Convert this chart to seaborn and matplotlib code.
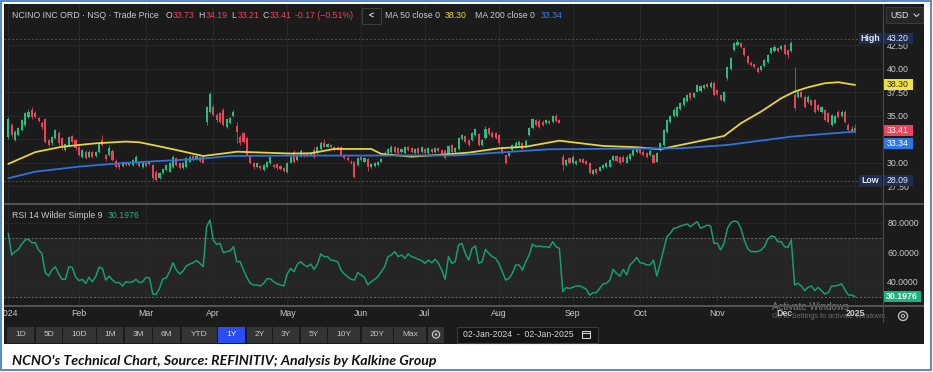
import numpy as np
import pandas as pd
import matplotlib
matplotlib.use("Agg")
import matplotlib.pyplot as plt
from matplotlib.patches import Rectangle, Circle
import seaborn as sns

# trading calendar shown on the chart (02-Jan-2024 .. 02-Jan-2025)
holidays = ["2024-01-15", "2024-02-19", "2024-03-29", "2024-05-27", "2024-06-19",
            "2024-07-04", "2024-09-02", "2024-11-28", "2024-12-25", "2025-01-01"]
dates = pd.bdate_range("2024-01-02", "2025-01-02", freq="C", holidays=holidays)

# daily candles
opens = [
    32.73, 34.04, 32.45, 32.98, 33.51, 34.04, 34.93, 35.64, 35.35, 34.75,
    34.29, 34.64, 32.45, 32.09, 32.62, 33.23, 32.62, 31.38, 31.91, 32.87,
    32.45, 31.74, 30.67, 31.21, 30.67, 31.21, 30.74, 31.21, 32.45, 30.85,
    30.85, 31.31, 30.25, 29.96, 29.68, 30.14, 29.79, 29.79, 29.96, 30.04,
    29.61, 30.04, 29.89, 29.79, 29.08, 28.37, 28.90, 29.26, 29.08, 29.61,
    30.50, 30.04, 29.43, 29.61, 30.14, 30.74, 30.39, 30.60, 30.67, 34.40,
    35.46, 35.99, 35.11, 35.28, 35.64, 33.87, 34.22, 35.00, 33.90, 32.80,
    33.16, 32.62, 30.85, 29.96, 29.61, 29.68, 29.26, 29.61, 29.96, 29.79,
    29.89, 29.68, 29.43, 29.08, 30.04, 31.21, 30.32, 30.74, 31.10, 31.03,
    30.85, 31.38, 31.10, 31.45, 32.09, 31.74, 31.91, 31.74, 31.67, 31.67,
    30.85, 30.57, 30.14, 30.14, 29.79, 30.60, 30.14, 30.39, 29.54, 29.68,
    29.79, 30.14, 30.85, 31.10, 31.21, 31.67, 31.56, 31.21, 31.03, 31.67,
    31.56, 31.10, 31.56, 31.21, 31.45, 31.10, 31.45, 31.21, 31.56, 31.38,
    31.31, 30.96, 31.91, 31.21, 31.45, 32.52, 32.87, 32.45, 32.45, 32.98,
    33.09, 31.91, 32.62, 33.69, 33.23, 33.16, 32.98, 31.74, 30.85, 30.74,
    31.38, 31.67, 31.91, 32.09, 31.67, 32.98, 33.69, 34.57, 34.50, 34.40,
    34.22, 34.50, 34.40, 35.00, 34.57, 30.67, 29.79, 30.50, 29.96, 29.89,
    30.39, 30.39, 30.25, 30.04, 28.83, 29.33, 29.18, 29.43, 29.54, 29.61,
    30.32, 30.74, 30.60, 30.67, 30.04, 30.39, 30.85, 31.21, 31.67, 31.21,
    31.03, 30.85, 30.85, 30.14, 31.38, 31.91, 33.33, 34.40, 35.00, 35.00,
    35.71, 36.17, 36.63, 37.48, 37.06, 37.59, 37.70, 37.94, 38.40, 38.05,
    38.55, 37.77, 37.23, 36.63, 39.01, 39.96, 42.02, 42.55, 42.73, 42.20,
    41.38, 40.67, 40.53, 40.07, 39.89, 40.32, 40.78, 41.74, 41.95, 42.20,
    42.09, 42.55, 42.02, 41.95, 37.23, 37.06, 37.59, 37.06, 36.52, 36.70,
    36.70, 36.17, 35.46, 35.64, 35.28, 34.04, 34.29, 35.46, 35.00, 35.46,
    34.04, 33.45, 33.73,
]
closes = [
    34.64, 32.98, 33.33, 33.69, 34.57, 35.28, 35.46, 34.86, 34.93, 34.50,
    33.79, 32.27, 31.91, 32.73, 33.51, 32.09, 31.56, 32.02, 32.73, 32.27,
    31.56, 30.85, 31.38, 30.50, 31.21, 30.67, 31.21, 32.09, 31.91, 30.39,
    31.56, 30.32, 29.61, 29.54, 30.14, 29.79, 30.04, 30.32, 30.67, 29.68,
    30.04, 29.68, 30.14, 28.37, 28.19, 28.90, 29.33, 29.79, 29.96, 30.67,
    29.79, 29.43, 29.96, 30.50, 30.67, 30.32, 30.74, 30.25, 30.04, 35.92,
    37.34, 35.11, 34.57, 34.40, 34.04, 34.64, 34.75, 35.46, 33.33, 32.09,
    32.27, 30.85, 29.96, 29.54, 29.96, 29.43, 29.79, 30.14, 30.60, 29.54,
    29.43, 29.33, 29.18, 29.96, 30.67, 30.14, 30.85, 31.31, 30.74, 30.74,
    31.10, 30.60, 31.67, 32.16, 31.74, 32.02, 31.67, 31.38, 31.45, 30.85,
    30.50, 30.32, 29.96, 28.48, 30.50, 30.32, 30.50, 29.54, 29.89, 29.96,
    30.14, 30.39, 31.10, 31.45, 31.74, 31.21, 31.10, 31.45, 31.74, 31.38,
    31.21, 31.45, 31.03, 31.67, 31.10, 31.56, 31.21, 31.56, 31.31, 30.96,
    30.50, 31.81, 31.21, 31.56, 32.62, 32.98, 32.27, 31.91, 33.16, 33.58,
    31.91, 32.45, 33.58, 33.09, 32.80, 32.62, 32.09, 31.03, 29.96, 31.10,
    31.91, 32.16, 32.27, 31.45, 32.38, 33.69, 34.65, 34.04, 33.87, 34.04,
    34.57, 34.22, 35.00, 34.50, 34.29, 29.79, 30.32, 29.96, 30.67, 30.25,
    30.14, 30.04, 29.89, 28.97, 29.26, 28.90, 29.61, 29.79, 29.96, 30.32,
    30.74, 30.25, 29.96, 30.14, 30.67, 30.96, 31.38, 31.74, 31.03, 30.85,
    30.67, 31.31, 30.04, 31.03, 32.09, 33.51, 34.57, 35.00, 35.64, 35.99,
    36.35, 36.88, 37.23, 36.88, 37.48, 38.30, 38.19, 38.30, 38.05, 38.55,
    37.23, 37.34, 36.70, 37.59, 40.18, 41.13, 42.73, 42.91, 42.30, 41.49,
    40.60, 40.43, 40.18, 39.72, 40.32, 40.96, 41.49, 42.20, 42.38, 41.95,
    42.45, 41.60, 41.49, 42.73, 35.82, 37.59, 37.06, 35.92, 37.06, 36.17,
    35.46, 35.64, 35.92, 34.57, 34.40, 35.11, 35.00, 34.93, 35.46, 34.40,
    33.51, 33.58, 33.41,
]
highs = [
    34.90, 34.30, 33.50, 33.85, 34.70, 35.40, 35.70, 35.90, 35.50, 34.90,
    34.45, 34.80, 32.60, 32.90, 33.65, 33.40, 32.80, 32.15, 32.90, 33.00,
    32.60, 31.90, 31.50, 31.35, 31.35, 31.30, 31.30, 32.20, 32.98, 31.00,
    31.91, 31.45, 30.40, 30.10, 30.25, 30.25, 30.15, 30.45, 30.80, 30.15,
    30.15, 30.15, 30.25, 29.90, 29.20, 29.00, 29.45, 29.90, 30.10, 30.80,
    30.60, 30.15, 30.05, 30.60, 30.80, 30.90, 30.85, 30.75, 30.80, 36.10,
    37.60, 36.20, 35.30, 35.45, 35.80, 34.80, 34.90, 35.65, 34.40, 32.95,
    33.30, 32.75, 31.00, 30.10, 30.10, 29.80, 29.90, 30.25, 30.75, 29.90,
    30.00, 29.80, 29.55, 30.05, 30.80, 31.35, 31.00, 31.45, 31.20, 31.15,
    31.20, 31.70, 31.80, 32.30, 32.50, 32.15, 32.05, 31.85, 31.80, 31.80,
    31.00, 30.70, 30.30, 30.25, 30.65, 30.75, 30.65, 30.50, 30.00, 30.10,
    30.25, 30.50, 31.25, 31.55, 31.90, 31.80, 31.70, 31.55, 31.85, 31.80,
    31.70, 31.55, 31.70, 31.80, 31.60, 31.65, 31.55, 31.65, 31.65, 31.50,
    31.45, 31.95, 32.05, 31.70, 32.75, 33.10, 33.00, 32.60, 33.30, 33.75,
    33.20, 32.60, 33.90, 33.85, 33.40, 33.30, 33.10, 31.85, 31.00, 31.20,
    32.05, 32.30, 32.40, 32.20, 32.50, 33.85, 34.80, 34.70, 34.65, 34.55,
    34.70, 34.60, 35.15, 35.20, 34.70, 31.00, 30.45, 30.65, 30.80, 30.35,
    30.50, 30.50, 30.35, 30.15, 29.35, 29.45, 29.70, 29.90, 30.05, 30.45,
    30.85, 30.85, 30.70, 30.80, 30.80, 31.10, 31.50, 31.85, 31.80, 31.35,
    31.15, 31.45, 30.95, 31.15, 32.20, 33.65, 34.70, 35.15, 35.80, 36.10,
    36.50, 37.00, 37.35, 37.60, 37.60, 38.45, 38.30, 38.45, 38.55, 38.70,
    38.70, 37.90, 37.35, 37.70, 40.35, 41.30, 42.90, 43.20, 42.85, 42.35,
    41.50, 40.80, 40.65, 40.20, 40.45, 41.10, 41.60, 42.35, 42.50, 42.30,
    42.55, 42.70, 42.15, 43.00, 40.25, 37.75, 37.70, 37.20, 37.20, 36.85,
    36.85, 36.30, 36.05, 35.75, 35.40, 35.25, 35.15, 35.60, 35.60, 35.60,
    34.20, 33.95, 34.19,
]
lows = [
    32.50, 32.80, 32.30, 32.85, 33.40, 33.90, 34.80, 34.70, 34.80, 34.35,
    33.60, 32.10, 31.70, 31.95, 32.50, 31.95, 31.40, 31.25, 31.80, 32.10,
    31.40, 30.70, 30.55, 30.40, 30.55, 30.55, 30.60, 31.10, 31.80, 30.25,
    30.75, 30.20, 29.50, 29.40, 29.55, 29.70, 29.70, 29.70, 29.85, 29.60,
    29.50, 29.55, 29.80, 28.20, 28.09, 28.25, 28.80, 29.15, 29.00, 29.50,
    29.70, 29.35, 29.35, 29.50, 30.05, 30.20, 30.30, 30.15, 29.95, 34.00,
    35.30, 34.95, 34.40, 34.25, 33.90, 33.70, 34.10, 34.90, 32.10, 31.95,
    32.10, 30.70, 29.85, 29.40, 29.50, 29.30, 29.15, 29.50, 29.85, 29.45,
    29.30, 29.20, 29.05, 28.95, 29.95, 30.00, 30.20, 30.65, 30.65, 30.65,
    30.75, 30.50, 31.00, 31.35, 31.65, 31.65, 31.55, 31.30, 31.35, 30.75,
    30.40, 30.20, 29.85, 28.40, 29.70, 30.20, 30.05, 29.10, 29.45, 29.60,
    29.70, 30.05, 30.75, 31.00, 31.10, 31.10, 31.00, 31.10, 30.95, 31.30,
    31.10, 31.00, 30.95, 31.10, 31.00, 31.00, 31.10, 31.10, 31.20, 30.85,
    30.40, 30.85, 31.10, 31.10, 31.35, 32.40, 32.15, 31.80, 32.35, 32.90,
    31.80, 31.80, 32.50, 32.95, 32.70, 32.50, 31.95, 30.90, 29.85, 30.60,
    31.25, 31.55, 31.80, 31.35, 31.55, 32.85, 33.60, 33.95, 33.75, 33.95,
    34.10, 34.10, 34.30, 34.40, 34.20, 29.26, 29.70, 29.85, 29.85, 29.80,
    30.05, 29.95, 29.80, 28.85, 28.75, 28.80, 29.10, 29.35, 29.45, 29.55,
    30.25, 30.15, 29.85, 30.05, 29.95, 30.30, 30.75, 31.10, 30.95, 30.75,
    30.55, 30.75, 29.95, 30.05, 31.30, 31.80, 33.20, 34.30, 34.90, 34.90,
    35.60, 36.05, 36.50, 36.75, 36.95, 37.50, 37.60, 37.85, 37.95, 37.95,
    37.10, 37.25, 36.60, 36.50, 38.83, 39.85, 41.90, 42.45, 42.20, 41.40,
    40.50, 40.30, 40.05, 39.60, 39.80, 40.20, 40.65, 41.60, 41.85, 41.85,
    42.00, 41.50, 41.13, 41.85, 35.64, 36.95, 36.95, 35.80, 36.40, 36.05,
    35.35, 35.50, 35.35, 34.45, 34.30, 33.90, 34.20, 34.80, 34.90, 34.30,
    33.40, 33.35, 33.21,
]

# RSI 14 (Wilder)
rsi_values = [
    72.8, 58.2, 60.5, 62.0, 65.6, 68.3, 68.8, 66.5, 66.5, 61.6,
    59.3, 46.3, 44.0, 48.1, 50.3, 45.4, 41.8, 41.8, 50.3, 49.9,
    43.6, 40.9, 41.8, 39.1, 43.1, 40.2, 43.6, 49.9, 49.2, 41.3,
    44.0, 41.3, 39.6, 39.6, 37.3, 40.2, 39.6, 40.2, 41.8, 39.6,
    40.2, 43.1, 42.9, 31.9, 31.7, 35.7, 42.2, 42.7, 47.0, 53.0,
    48.1, 45.4, 47.4, 50.8, 52.1, 53.0, 54.4, 52.6, 50.3, 77.0,
    81.8, 68.3, 65.4, 66.1, 59.8, 60.5, 61.1, 63.8, 53.7, 53.7,
    48.1, 43.1, 39.1, 38.0, 38.0, 37.3, 39.1, 42.2, 42.2, 40.2,
    38.7, 38.0, 37.3, 45.4, 49.2, 47.0, 51.9, 53.7, 51.5, 50.3,
    52.1, 48.5, 52.1, 58.9, 57.1, 57.1, 54.8, 54.4, 53.7, 48.1,
    45.4, 43.6, 41.8, 41.3, 46.3, 44.7, 43.1, 38.0, 40.2, 41.8,
    43.6, 47.0, 50.3, 57.1, 58.2, 60.5, 57.1, 58.2, 56.0, 58.9,
    57.1, 56.4, 55.3, 54.4, 52.6, 54.8, 53.0, 55.3, 52.6, 48.1,
    41.8, 57.1, 52.6, 53.7, 65.0, 66.1, 59.3, 54.8, 62.7, 64.3,
    52.6, 53.7, 62.0, 59.3, 57.1, 56.0, 52.6, 47.0, 41.3, 42.5,
    45.8, 51.5, 51.5, 48.1, 53.7, 58.2, 65.6, 63.8, 64.3, 63.8,
    63.8, 63.2, 67.2, 63.8, 62.7, 33.5, 36.2, 35.7, 36.4, 37.3,
    37.3, 36.4, 35.1, 31.2, 32.8, 32.8, 35.7, 38.7, 39.1, 41.3,
    48.5, 45.8, 44.0, 48.5, 44.7, 51.5, 53.7, 56.6, 53.0, 52.6,
    51.5, 51.5, 54.8, 44.0, 52.6, 61.6, 70.6, 72.8, 76.2, 76.6,
    77.8, 78.4, 79.1, 77.3, 79.1, 80.7, 76.2, 77.3, 78.4, 77.8,
    66.1, 66.1, 61.6, 66.1, 76.2, 80.0, 81.1, 80.7, 76.2, 68.3,
    62.7, 60.5, 60.5, 60.5, 61.6, 63.8, 68.8, 71.0, 70.6, 67.2,
    67.2, 63.8, 63.4, 68.3, 38.0, 39.1, 37.3, 34.2, 36.4, 37.3,
    34.2, 36.4, 34.2, 31.9, 32.8, 37.3, 37.3, 37.8, 38.7, 34.6,
    31.2, 31.2, 30.1976,
]

# moving averages, sampled where the drawn line bends
ma50_dates = ["2024-01-02", "2024-01-12", "2024-01-25", "2024-02-08", "2024-02-22",
              "2024-02-28", "2024-03-05", "2024-03-13", "2024-03-26", "2024-04-08",
              "2024-04-10", "2024-05-02", "2024-05-10", "2024-05-21", "2024-06-06",
              "2024-06-11", "2024-06-25", "2024-07-08", "2024-07-19", "2024-08-01",
              "2024-08-13", "2024-08-27", "2024-09-16", "2024-09-30", "2024-10-09",
              "2024-11-05", "2024-11-12", "2024-11-20", "2024-11-29", "2024-12-05",
              "2024-12-11", "2024-12-18", "2024-12-24", "2025-01-02"]
ma50_values = [29.90, 31.15, 31.73, 32.09, 32.27, 32.20, 31.91, 31.46, 30.74, 31.10,
               31.20, 31.00, 31.03, 31.49, 31.49, 30.96, 30.67, 30.85, 31.10, 31.56,
               31.73, 32.37, 31.81, 31.67, 31.46, 32.87, 34.22, 35.46, 36.88, 37.59,
               38.05, 38.48, 38.59, 38.30]
ma200_dates = ["2024-01-02", "2024-01-12", "2024-02-01", "2024-02-20", "2024-03-07",
               "2024-03-25", "2024-04-08", "2024-05-02", "2024-07-15", "2024-08-22",
               "2024-10-17", "2024-11-06", "2024-12-04", "2025-01-02"]
ma200_values = [28.37, 29.07, 29.61, 29.96, 30.21, 30.43, 30.74, 30.78, 30.80, 31.46,
                31.56, 31.91, 32.80, 33.34]

# 32.50 sits under the last-price tags in the source, so only its gridline shows
price_ticks = [27.5, 30.0, 32.5, 35.0, 37.5, 40.0, 42.5]
price_labels = ["27.50", "30.00", "", "35.00", "37.50", "40.00", "42.50"]
rsi_ticks = [40, 60, 80]
buttons = ["1D", "5D", "10D", "1M", "3M", "6M", "YTD", "1Y", "2Y", "3Y", "5Y", "10Y", "20Y", "Max"]
caption = "NCNO's Technical Chart, Source: REFINITIV; Analysis by Kalkine Group"

# colours
BG = "#1b1b1b"
GRID = "#2a2a2a"
TXT = "#c9c9c9"
GREEN = "#24c07f"
RED = "#e8445a"
YELLOW = "#e6d43a"
BLUE = "#2f72dc"
RSI_C = "#189c74"
NAVY = "#1c2e55"

sns.set_theme(style="dark", rc={"axes.facecolor": BG, "figure.facecolor": "white"})
plt.rcParams["font.family"] = ["Liberation Sans", "DejaVu Sans"]

W, H = 933, 372
fig = plt.figure(figsize=(W / 100, H / 100), dpi=100)


def rect(x0, y0, x1, y1):
    return [x0 / W, 1 - y1 / H, (x1 - x0) / W, (y1 - y0) / H]


# background layer (dark terminal panel + outer frame)
bg = fig.add_axes(rect(0, 0, W, H), zorder=0)
bg.set_xlim(0, W)
bg.set_ylim(H, 0)
bg.axis("off")
bg.add_patch(Rectangle((4, 4), 920, 340, fc=BG, ec="none"))
bg.add_patch(Rectangle((1, 1), 930, 369, fc="none", ec="#4a7fc6", lw=1.3))

n = len(dates)
idx = np.arange(n)
xlim = (-1.28, 260.3)
month_pos = pd.Series(idx, index=dates).groupby([dates.year, dates.month]).first()
month_lbl = [("%d" % y) if m == 1 else pd.Timestamp(year=y, month=m, day=1).strftime("%b")
             for y, m in month_pos.index]

# ---- price pane ----
ax = fig.add_axes(rect(4, 4, 883, 203), zorder=1)
ax.set_facecolor(BG)
ax.set_xlim(*xlim)
ax.set_ylim(25.74, 46.91)
ax.set_xticks(month_pos.values)
ax.set_yticks(price_ticks)
ax.set_yticklabels(price_labels)
ax.yaxis.tick_right()
ax.tick_params(axis="y", length=0, pad=3, labelsize=6.3, labelcolor=TXT)
ax.tick_params(axis="x", length=0, labelbottom=False)
ax.grid(True, color=GRID, lw=0.6)
for s in ax.spines.values():
    s.set_visible(False)

o = np.array(opens)
c = np.array(closes)
hi = np.array(highs)
lo = np.array(lows)
cols = np.where(c >= o, GREEN, RED)
ax.vlines(idx, lo, hi, colors=cols, linewidth=0.55, zorder=3)
ax.bar(idx, np.maximum(np.abs(c - o), 0.07), bottom=np.minimum(o, c), width=0.62,
       color=cols, linewidth=0, zorder=3)

ma50_pos = dates.get_indexer(pd.to_datetime(ma50_dates))
ma200_pos = dates.get_indexer(pd.to_datetime(ma200_dates))
sns.lineplot(x=ma50_pos, y=ma50_values, ax=ax, color=YELLOW, linewidth=1.3,
             estimator=None, sort=False, legend=False, zorder=4)
sns.lineplot(x=ma200_pos, y=ma200_values, ax=ax, color=BLUE, linewidth=1.3,
             estimator=None, sort=False, legend=False, zorder=4)
ax.axhline(max(highs), color="#505050", lw=0.7, ls=(0, (2, 2)), zorder=2)
ax.axhline(min(lows), color="#505050", lw=0.7, ls=(0, (2, 2)), zorder=2)
ax.set_xlabel("")
ax.set_ylabel("")

# ---- RSI pane ----
ax2 = fig.add_axes(rect(4, 205, 883, 305), zorder=1)
ax2.set_facecolor(BG)
ax2.set_xlim(*xlim)
ax2.set_ylim(24.49, 91.92)
ax2.axhspan(30, 70, color="#252525", zorder=0.5, lw=0)
ax2.axhline(70, color="#6a6a6a", lw=0.7, ls=(0, (2, 2)), zorder=1)
ax2.axhline(30, color="#6a6a6a", lw=0.7, ls=(0, (2, 2)), zorder=1)
ax2.set_xticks(month_pos.values)
ax2.set_yticks(rsi_ticks)
ax2.set_yticklabels(["%.4f" % v for v in rsi_ticks])
ax2.yaxis.tick_right()
ax2.tick_params(axis="y", length=0, pad=3, labelsize=6.3, labelcolor=TXT)
ax2.tick_params(axis="x", length=0, labelbottom=False)
ax2.grid(True, color=GRID, lw=0.6)
for s in ax2.spines.values():
    s.set_visible(False)
sns.lineplot(x=idx, y=rsi_values, ax=ax2, color=RSI_C, linewidth=1.1,
             estimator=None, sort=False, legend=False, zorder=3)
ax2.set_xlabel("")
ax2.set_ylabel("")

# ---- foreground UI layer ----
ui = fig.add_axes(rect(0, 0, W, H), zorder=5)
ui.set_xlim(0, W)
ui.set_ylim(H, 0)
ui.axis("off")
ui.patch.set_visible(False)

# ---- date row ----
axd = fig.add_axes(rect(4, 305, 883, 322), zorder=2)
axd.set_xlim(*xlim)
axd.set_ylim(0, 1)
axd.axis("off")
# OS watermark captured in the screenshot, drawn faintly under the month labels
axd.text(772, 307, "Activate Windows", color="#7c7c7c", fontsize=7, ha="left", va="center",
         transform=ui.transData, clip_on=False, zorder=1)
axd.text(772, 317, "Go to Settings to activate Windows.", color="#6a6a6a", fontsize=5.3,
         ha="left", va="center", transform=ui.transData, clip_on=False, zorder=1)
for pos, lbl in zip(month_pos.values, month_lbl):
    bold = lbl in ("2025", "Dec")
    axd.text(pos, 0.5, lbl, ha="center", va="center", fontsize=6.3, color=TXT,
             fontweight="bold" if bold else "normal", clip_on=True, zorder=3)


def t(x, y, s, color=TXT, size=6.3, ha="left", weight="normal", **kw):
    ui.text(x, y, s, color=color, fontsize=size, ha=ha, va="center", fontweight=weight, **kw)


def py(a, v):
    return H - a.transData.transform((0, v))[1]


# pane separators and price scale edge
ui.plot([4, 924], [204, 204], color="#555555", lw=1.4, solid_capstyle="butt")
ui.plot([4, 924], [305.5, 305.5], color="#555555", lw=1.4, solid_capstyle="butt")
ui.plot([883, 883], [4, 322], color="#4a4a4a", lw=0.8)

# header line
chg = closes[-1] - closes[-2]
pct = chg / closes[-2] * 100
t(12, 16, "NCINO INC ORD · NSQ · Trade Price")
for x, lab, val in [(165.5, "O", opens[-1]), (198.5, "H", highs[-1]),
                    (231, "L", lows[-1]), (262.5, "C", closes[-1])]:
    t(x, 16, lab)
    t(x + 7, 16, "%.2f" % val, color=RED)
t(295, 16, "%.2f (\u2212%.2f%%)" % (chg, abs(pct)), color=RED)
ui.add_patch(Rectangle((362, 8), 19, 16, fc=BG, ec="#3c3c3c", lw=0.8))
t(371.5, 16, "<", color="#e0e0e0", ha="center", weight="bold")
t(385, 16, "MA 50 close 0")
t(445, 16, "%.2f" % ma50_values[-1], color=YELLOW)
t(475, 16, "MA 200 close 0")
t(541, 16, "%.2f" % ma200_values[-1], color="#3b82e6")

# USD selector
ui.add_patch(Rectangle((886, 7), 37, 16, fc="#262626", ec="#3a3a3a", lw=0.8))
t(890, 15, "USD", color="#e6e6e6")
ui.plot([914, 916.5, 919], [14, 16.5, 14], color="#cccccc", lw=0.8)

# right-hand price tags
yh = py(ax, max(highs))
ui.add_patch(Rectangle((859, yh - 5.5), 23, 11, fc=NAVY, ec="none"))
ui.add_patch(Rectangle((883, yh - 5.5), 30, 11, fc=NAVY, ec="none"))
t(870.5, yh, "High", color="#e8e8e8", ha="center", weight="bold")
t(898, yh, "%.2f" % max(highs), color="#e8e8e8", ha="center")
yl = py(ax, min(lows))
ui.add_patch(Rectangle((859, yl - 5.5), 23, 11, fc=NAVY, ec="none"))
ui.add_patch(Rectangle((883, yl - 5.5), 30, 11, fc=NAVY, ec="none"))
t(870.5, yl, "Low", color="#e8e8e8", ha="center", weight="bold")
t(898, yl, "%.2f" % min(lows), color="#e8e8e8", ha="center")
for v, fc, tc, dy in [(ma50_values[-1], "#f2e13e", "#2a2a2a", 0),
                      (closes[-1], RED, "white", 0),
                      (ma200_values[-1], "#2f78e4", "white", 12)]:
    yy = py(ax, v) + dy
    ui.add_patch(Rectangle((883, yy - 5.5), 30, 11, fc=fc, ec="none"))
    t(898, yy, "%.2f" % v, color=tc, ha="center")

# RSI header and tag
t(12, 216, "RSI 14 Wilder Simple 9")
t(108, 216, "%.4f" % rsi_values[-1], color="#1fb083")
yr = py(ax2, rsi_values[-1])
ui.add_patch(Rectangle((883, yr - 5.5), 38, 11, fc="#1ab37e", ec="none"))
t(902, yr, "%.4f" % rsi_values[-1], color="white", ha="center", weight="bold")

# range buttons
edges = [(7, 34), (36, 62), (63, 96), (97, 123), (125, 152), (153, 180), (182, 217),
         (218, 245), (247, 272), (273, 299), (301, 327), (328, 360), (362, 393), (394, 426)]
for lab, (x0, x1) in zip(buttons, edges):
    on = lab == "1Y"
    ui.add_patch(Rectangle((x0, 326.5), x1 - x0, 16, fc="#2a4cf0" if on else "#343434", ec="none"))
    t((x0 + x1) / 2, 334.5, lab, color="white" if on else "#c4c4c4", size=6, ha="center")
ui.add_patch(Rectangle((428, 326.5), 16, 16, fc="#343434", ec="none"))
ui.add_patch(Circle((436, 334.5), 3.6, fc="none", ec="#c4c4c4", lw=0.9))
ui.add_patch(Circle((436, 334.5), 1.2, fc="#c4c4c4", ec="none"))

# date range box
ui.add_patch(Rectangle((457, 326.5), 141, 16.5, fc="#141414", ec="#3c3c3c", lw=0.8))
t(463, 334.5, "%s  -  %s" % (dates[0].strftime("%d-%b-%Y"), dates[-1].strftime("%d-%b-%Y")),
  color="#d4d4d4")
ui.add_patch(Rectangle((582, 330.5), 8, 7.5, fc="none", ec="#cccccc", lw=0.8))
ui.plot([582, 590], [332.5, 332.5], color="#cccccc", lw=0.8)

# settings gear at right
ui.add_patch(Circle((903, 316), 4.5, fc="none", ec="#bdbdbd", lw=1.0))
ui.add_patch(Circle((903, 316), 1.6, fc="none", ec="#bdbdbd", lw=0.8))

# caption under the chart
ui.text(12, 361, caption, fontsize=10.2, fontweight="bold", fontstyle="italic",
        family=["Lato", "DejaVu Sans"], color="#111111", ha="left", va="center")

fig.savefig("out.png", dpi=100)
